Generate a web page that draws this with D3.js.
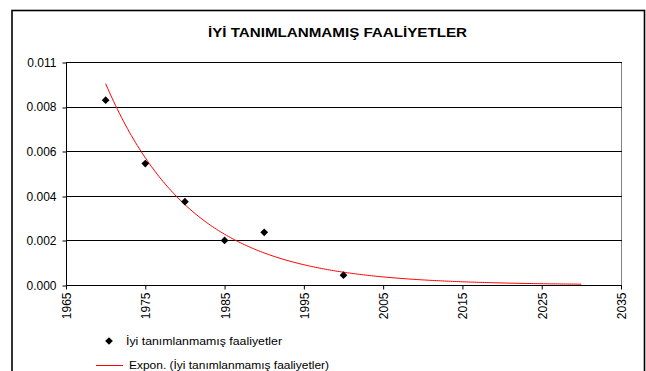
<!DOCTYPE html>
<html>
<head>
<meta charset="utf-8">
<script src="https://cdn.jsdelivr.net/npm/d3@7"></script>
<style>
  html, body { margin: 0; padding: 0; background: #fff; }
  svg { display: block; font-family: "Liberation Sans", Arial, sans-serif; }
</style>
</head>
<body>
<svg id="chart" width="646" height="371"></svg>
<script>
// Observed rates by year
const years = [1970, 1975, 1980, 1985, 1990, 2000];
const values = [0.0087, 0.00572, 0.00392, 0.0021, 0.00248, 0.00046];

// Axis ticks (major unit 0.0021, three-decimal labels)
const yTickValues = [0, 0.0021, 0.0042, 0.0063, 0.0084, 0.0105];
const yTickLabels = ["0.000", "0.002", "0.004", "0.006", "0.008", "0.011"];
const xTickValues = [1965, 1975, 1985, 1995, 2005, 2015, 2025, 2035];

const titleText = "İYİ TANIMLANMAMIŞ FAALİYETLER";
const seriesName = "İyi tanımlanmamış faaliyetler";
const trendName = "Expon. (İyi tanımlanmamış faaliyetler)";
const trendRange = [1970, 2030];

const svg = d3.select("#chart");
const W = 646, H = 371;
const plot = { left: 66, right: 621, top: 62, bottom: 285 };

svg.append("rect").attr("width", W).attr("height", H).attr("fill", "#fff");

// Chart area frame
svg.append("rect")
  .attr("x", 12).attr("y", 10.5)
  .attr("width", 632.5).attr("height", 400)
  .attr("fill", "none").attr("stroke", "#000").attr("stroke-width", 1.6);

// Title (wide GDI-style glyph spacing)
svg.append("text")
  .attr("x", 208).attr("y", 37)
  .attr("font-size", 13).attr("font-weight", "bold")
  .attr("textLength", 259).attr("lengthAdjust", "spacingAndGlyphs")
  .text(titleText);

const x = d3.scaleLinear().domain([1965, 2035]).range([plot.left, plot.right]);
const y = d3.scaleLinear().domain([0, 0.0105]).range([plot.bottom, plot.top]);

// Plot area right border
svg.append("line")
  .attr("x1", plot.right + 0.5).attr("x2", plot.right + 0.5)
  .attr("y1", plot.top).attr("y2", plot.bottom)
  .attr("stroke", "#808080").attr("stroke-width", 1);

// Horizontal gridlines
svg.append("g").selectAll("line")
  .data(yTickValues.slice(1))
  .join("line")
  .attr("x1", plot.left).attr("x2", plot.right + 1)
  .attr("y1", d => Math.round(y(d)) + 0.5).attr("y2", d => Math.round(y(d)) + 0.5)
  .attr("stroke", "#000").attr("stroke-width", 1);

// Y axis
const yAxis = d3.axisLeft(y)
  .tickValues(yTickValues)
  .tickSize(4)
  .tickFormat((d, i) => yTickLabels[i]);
const gy = svg.append("g")
  .attr("transform", `translate(${plot.left + 0.5},0)`)
  .call(yAxis);
gy.select(".domain").attr("stroke", "#000").attr("d", `M0,${plot.top}V${plot.bottom}`);
gy.selectAll(".tick line").attr("stroke", "#000")
  .attr("transform", d => `translate(0,${Math.round(y(d)) + 0.5 - y(d)})`);
gy.selectAll(".tick text")
  .attr("x", -10).attr("dy", "0.36em")
  .attr("font-size", 12).attr("font-family", "Liberation Sans, Arial, sans-serif")
  .attr("fill", "#000");

// X axis
const xAxis = d3.axisBottom(x)
  .tickValues(xTickValues)
  .tickSize(4)
  .tickFormat(d3.format("d"));
const gx = svg.append("g")
  .attr("transform", `translate(0,${plot.bottom + 0.5})`)
  .call(xAxis);
gx.select(".domain").attr("stroke", "#000").attr("d", `M${plot.left},0H${plot.right + 1}`);
gx.selectAll(".tick line").attr("stroke", "#000");
gx.selectAll(".tick text")
  .attr("font-size", 12).attr("font-family", "Liberation Sans, Arial, sans-serif")
  .attr("fill", "#000")
  .attr("text-anchor", "end")
  .attr("x", 0).attr("y", 0).attr("dy", 0)
  .attr("transform", "translate(4.5,7) rotate(-90)");

// Exponential trendline: least squares on ln(value)
const lx = years.map(d => d - trendRange[0]);
const ly = values.map(v => Math.log(v));
const mx = d3.mean(lx), my = d3.mean(ly);
const b = d3.sum(lx, (d, i) => (d - mx) * (ly[i] - my)) / d3.sum(lx, d => (d - mx) * (d - mx));
const a = Math.exp(my - b * mx);
const trendPts = d3.range(trendRange[0], trendRange[1] + 0.001, 0.25)
  .map(t => [t, a * Math.exp(b * (t - trendRange[0]))]);

svg.append("path")
  .datum(trendPts)
  .attr("fill", "none")
  .attr("stroke", "#ff0000")
  .attr("stroke-width", 1)
  .attr("d", d3.line().x(d => x(d[0])).y(d => y(d[1])));

// Data markers
const diamond = d3.symbol().type(d3.symbolSquare).size(30);
svg.append("g").selectAll("path")
  .data(years.map((yr, i) => [yr, values[i]]))
  .join("path")
  .attr("d", diamond)
  .attr("transform", d => `translate(${x(d[0])},${y(d[1])}) rotate(45)`)
  .attr("fill", "#000");

// Legend
const legend = svg.append("g").attr("font-size", 11.5);
legend.append("path")
  .attr("d", diamond)
  .attr("transform", "translate(109,341) rotate(45)")
  .attr("fill", "#000");
legend.append("text").attr("x", 126).attr("y", 345)
  .attr("textLength", 156).attr("lengthAdjust", "spacingAndGlyphs")
  .text(seriesName);
legend.append("line")
  .attr("x1", 96).attr("x2", 123).attr("y1", 365.5).attr("y2", 365.5)
  .attr("stroke", "#ff0000").attr("stroke-width", 1);
legend.append("text").attr("x", 129).attr("y", 369)
  .attr("textLength", 200).attr("lengthAdjust", "spacingAndGlyphs")
  .text(trendName);
</script>
</body>
</html>
